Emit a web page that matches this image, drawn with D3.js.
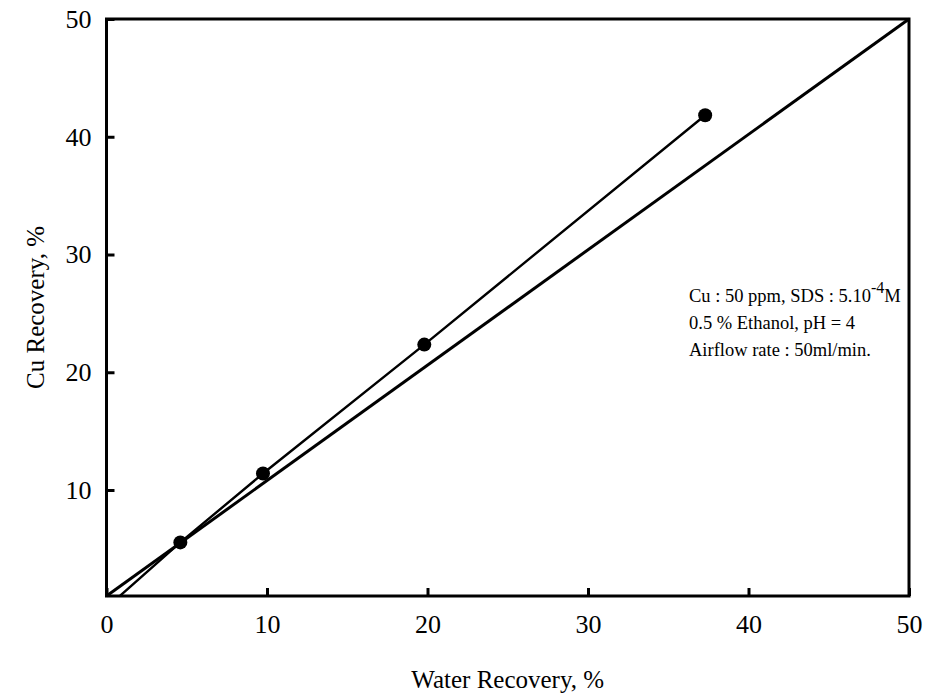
<!DOCTYPE html>
<html>
<head>
<meta charset="utf-8">
<script src="https://cdn.jsdelivr.net/npm/d3@7"></script>
<style>
  html, body { margin: 0; padding: 0; background: #fff; }
  text { font-family: "Liberation Serif", "Times New Roman", serif; fill: #000; }
</style>
</head>
<body>
<svg id="chart" width="928" height="696"></svg>
<script>
// ---- data ----
const waterRecovery = [0, 4.6, 9.75, 19.8, 37.3];
const cuRecovery    = [0, 5.55, 11.4, 22.35, 41.83];
const markerIdx     = [1, 2, 3, 4];
const diagonalX     = [0, 50];
const diagonalY     = [1, 50];
const xTicks = [0, 10, 20, 30, 40, 50];
const yTicks = [10, 20, 30, 40, 50];
const xTitle = "Water Recovery, %";
const yTitle = "Cu Recovery, %";
const noteLines = ["0.5 % Ethanol, pH = 4", "Airflow rate : 50ml/min."];

// ---- layout ----
const svg = d3.select("#chart");
const L = 106.5, R = 909, T = 19, B = 596;
const x = d3.scaleLinear().domain([0, 50]).range([L, R]);
const y = d3.scaleLinear().domain([1, 50]).range([B, T]);

svg.append("defs").append("clipPath").attr("id", "plotclip")
  .append("rect").attr("x", L).attr("y", T).attr("width", R - L).attr("height", B - T);

// diagonal line
svg.append("line")
  .attr("x1", x(diagonalX[0])).attr("y1", y(diagonalY[0]))
  .attr("x2", x(diagonalX[1])).attr("y2", y(diagonalY[1]))
  .attr("stroke", "#000").attr("stroke-width", 3);

// data line
const pts = waterRecovery.map((d, i) => [d, cuRecovery[i]]);
svg.append("path")
  .attr("clip-path", "url(#plotclip)")
  .attr("d", d3.line().x(d => x(d[0])).y(d => y(d[1]))(pts))
  .attr("fill", "none").attr("stroke", "#000").attr("stroke-width", 2.4);

svg.selectAll("circle.pt").data(markerIdx.map(i => pts[i])).join("circle")
  .attr("class", "pt")
  .attr("cx", d => x(d[0])).attr("cy", d => y(d[1])).attr("r", 7)
  .attr("fill", "#000");

// axes
const xAxis = d3.axisBottom(x).tickValues(xTicks).tickSize(-8).tickPadding(19).tickFormat(d3.format("d"));
const gx = svg.append("g").attr("transform", `translate(0,${B})`).call(xAxis);
const yAxis = d3.axisLeft(y).tickValues(yTicks).tickSize(-8).tickPadding(15).tickFormat(d3.format("d"));
const gy = svg.append("g").attr("transform", `translate(${L},0)`).call(yAxis);
[gx, gy].forEach(g => {
  g.select(".domain").remove();
  g.selectAll(".tick line").attr("stroke", "#000").attr("stroke-width", 3);
  g.selectAll(".tick text").attr("font-size", 26).attr("font-family", "Liberation Serif").attr("fill", "#000");
});

// frame
svg.append("rect").attr("x", L).attr("y", T).attr("width", R - L).attr("height", B - T)
  .attr("fill", "none").attr("stroke", "#000").attr("stroke-width", 3);

// titles
svg.append("text").attr("x", (L + R) / 2).attr("y", 688).attr("text-anchor", "middle")
  .attr("font-size", 25).text(xTitle);
svg.append("text").attr("transform", `translate(44,${(T + B) / 2}) rotate(-90)`)
  .attr("text-anchor", "middle").attr("font-size", 25).text(yTitle);

// annotation
const note = svg.append("text").attr("x", 689).attr("y", 302).attr("font-size", 18.5);
note.append("tspan").text("Cu : 50 ppm, SDS : 5.10");
note.append("tspan").attr("dy", -9).attr("font-size", 16).text("-4");
note.append("tspan").attr("dy", 9).text("M");
noteLines.forEach((t, i) => {
  svg.append("text").attr("x", 689).attr("y", 329 + i * 27).attr("font-size", 18.5).text(t);
});
</script>
</body>
</html>
